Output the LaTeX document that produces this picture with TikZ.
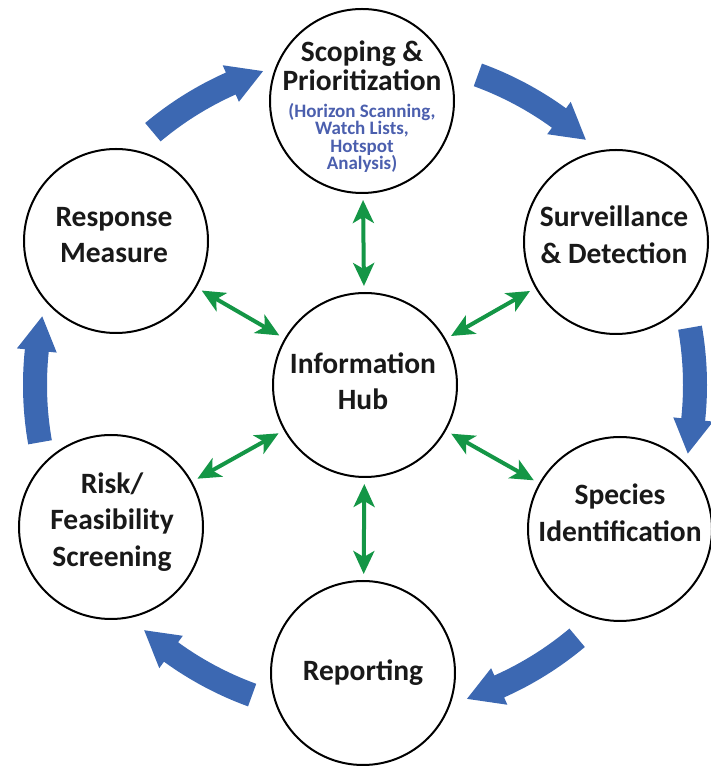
\documentclass[tikz,border=0pt]{standalone}
\usepackage{fontspec}
\setmainfont{Carlito}
\usetikzlibrary{arrows.meta}
\definecolor{arrowblue}{RGB}{60,104,178}
\definecolor{subblue}{RGB}{75,95,174}
\definecolor{hubgreen}{RGB}{20,150,70}
\definecolor{txt}{RGB}{25,25,25}
\begin{document}
\begin{tikzpicture}[x=1pt,y=1pt,
  stage/.style={circle,draw=black,line width=2pt,minimum size=184pt,inner sep=0pt},
  stagetext/.style={align=center,text=txt,inner sep=0pt,font=\bfseries\fontsize{29.5}{36.5}\selectfont},
  toptext/.style={align=center,text=txt,inner sep=0pt,font=\bfseries\fontsize{29.5}{28.5}\selectfont},
  subtext/.style={align=center,text=subblue,inner sep=0pt,font=\bfseries\fontsize{19}{17.5}\selectfont},
  link/.style={draw=hubgreen,line width=4pt,>={Stealth[length=23pt,width=21pt,inset=6pt]},<->,shorten <=6pt,shorten >=6pt},
  cyclearrow/.style={fill=arrowblue}]
\useasboundingbox (0,0) rectangle (711,766);

% circles
\node[stage] (H)  at (365,381) {};
\node[stage] (T)  at (362,665) {};
\node[stage] (SD) at (616,524) {};
\node[stage] (SI) at (620,237) {};
\node[stage] (R)  at (363,93)  {};
\node[stage] (RF) at (111,239) {};
\node[stage] (RM) at (116,525) {};

% texts
\node[toptext]   (Tt)  at (362,700) {Scoping \&\\Prioritization};
\node[subtext]   (Ts)  at (362,628) {(Horizon Scanning,\\Watch Lists,\\Hotspot\\Analysis)};
\node[stagetext] (SDt) at (614,531) {Surveillance\\\& Detection};
\node[stagetext] (SIt) at (620,253) {Species\\Identification};
\node[stagetext] (Rt)  at (363,93)  {Reporting};
\node[stagetext] (RFt) at (112,244) {Risk/\\Feasibility\\Screening};
\node[stagetext] (RMt) at (114,531) {Response\\Measure};
\node[stagetext] (Ht)  at (363,385) {Information\\Hub};

% green double arrows
\draw[link] (H) -- (T);
\draw[link] (H) -- (SD);
\draw[link] (H) -- (SI);
\draw[link] (H) -- (R);
\draw[link] (H) -- (RF);
\draw[link] (H) -- (RM);

% blue cycle arrows
\begin{scope}[shift={(H.center)}]
\foreach \c in {120,60,0,-60,-120,180} {
  \pgfmathsetmacro\aone{\c+10}
  \pgfmathsetmacro\ahead{\c-6}
  \pgfmathsetmacro\atwo{\c-12}
  \fill[cyclearrow] (\aone:342) arc[start angle=\aone, end angle=\ahead, radius=342]
     -- (\ahead:350) -- (\atwo:330) -- (\ahead:310) -- (\ahead:318)
     arc[start angle=\ahead, end angle=\aone, radius=318] -- cycle;
}
\end{scope}
\end{tikzpicture}
\end{document}
